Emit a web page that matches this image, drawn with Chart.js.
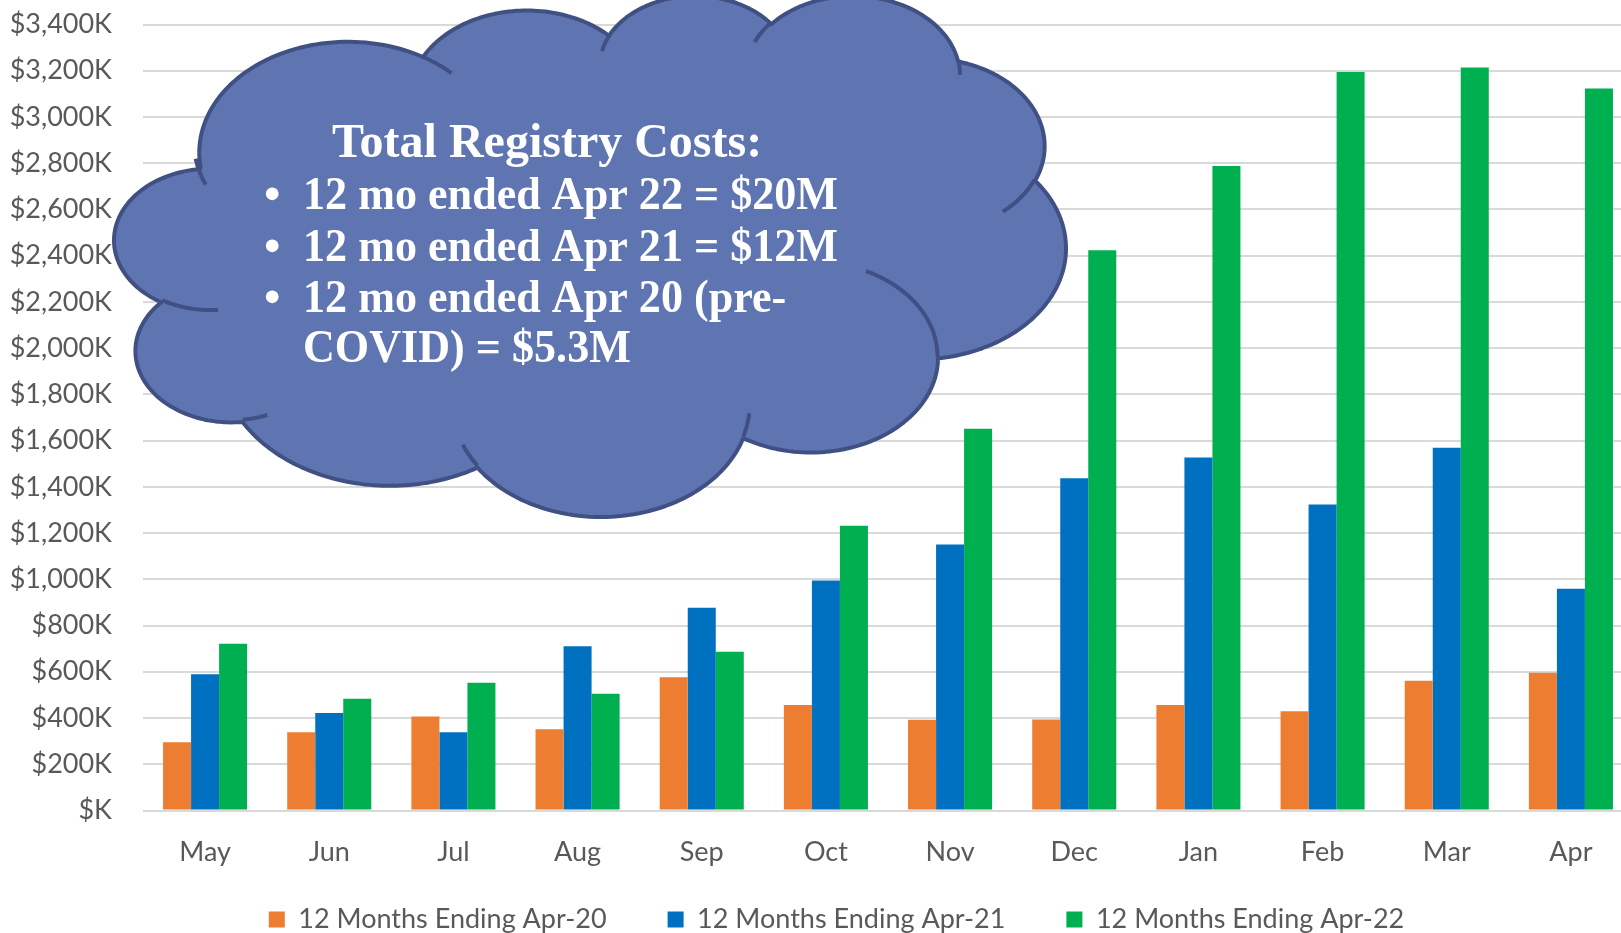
<!DOCTYPE html>
<html>
<head>
<meta charset="utf-8">
<script src="https://cdn.jsdelivr.net/npm/chart.js@4.4.1/dist/chart.umd.min.js"></script>
<style>
  html, body { margin:0; padding:0; overflow:hidden; background:#ffffff; width:1621px; height:933px; }
  canvas { display:block; }
</style>
</head>
<body>
<canvas id="chart" width="1633" height="943" style="width:1633px;height:943px"></canvas>
<script>
// ---- data (values in $K) ----
const months = ['May','Jun','Jul','Aug','Sep','Oct','Nov','Dec','Jan','Feb','Mar','Apr'];
const seriesNames = ['12 Months Ending Apr-20','12 Months Ending Apr-21','12 Months Ending Apr-22'];
const endingApr20 = [295, 338, 407, 351, 576, 456, 393, 394, 456, 429, 561, 596];
const endingApr21 = [589, 422, 338, 710, 877, 995, 1151, 1437, 1527, 1324, 1569, 959];
const endingApr22 = [721, 483, 553, 505, 687, 1232, 1651, 2424, 2788, 3194, 3214, 3123];
const yTickValues = [0,200,400,600,800,1000,1200,1400,1600,1800,2000,2200,2400,2600,2800,3000,3200,3400];
const cloudTitle = 'Total Registry Costs:';
const cloudLines = ['12 mo ended Apr 22 = $20M','12 mo ended Apr 21 = $12M','12 mo ended Apr 20 (pre-','COVID) = $5.3M'];
const cloudBullets = [true, true, true, false];

const colors = ['#ED7D31', '#0070C0', '#00B050'];
const tickColor = '#595959';
const tickFont = { family: 'Lato', size: 27 };

function fmtK(v) {
  return v === 0 ? '$K' : '$' + v.toLocaleString('en-US') + 'K';
}

// ---- Office "cloud" preset geometry (43200 x 43200 space) ----
const CLOUD_START = [3900, 14370];
const CLOUD_ARCS = [
  [6753,9190,-11429249,7426832],[5333,7267,-8646143,5396714],[4365,5945,-8748475,5983381],
  [4857,6595,-7859164,7034504],[5333,7273,-4722533,6541615],[6775,9220,-2776035,7816140],
  [5785,7867,37501,6842000],[6752,9215,1347096,6910353],[7720,10543,3974558,4542661],
  [4360,5918,-16496525,8804134],[4345,5945,-14809710,9151131]
];
const CLOUD_INNER = [
  [4693,26177,4345,5945,5204520,1585770],[6928,34899,4360,5918,4416628,686848],
  [16478,39090,6752,9215,8257449,844866],[28827,34751,6752,9215,387196,959901],
  [34129,22954,5785,7867,-4217541,4255042],[41798,15354,5333,7273,1819082,1665090],
  [38324,5426,4857,6595,-824660,891534],[29078,3952,4857,6595,-8950887,1091722],
  [22141,4720,4365,5945,-9809656,1061181],[14000,5192,6753,9190,-4002417,739161],
  [4127,15789,6753,9190,9004570,1068045]
];
function arcPoints(px, py, wR, hR, st, sw, n) {
  const a1 = st / 60000 * Math.PI / 180, a2 = (st + sw) / 60000 * Math.PI / 180;
  const t1 = Math.atan2(wR * Math.sin(a1), hR * Math.cos(a1));
  let t2 = Math.atan2(wR * Math.sin(a2), hR * Math.cos(a2));
  if (sw > 0) { while (t2 < t1) t2 += 2 * Math.PI; } else { while (t2 > t1) t2 -= 2 * Math.PI; }
  const cx = px - wR * Math.cos(t1), cy = py - hR * Math.sin(t1);
  const pts = [];
  for (let i = 1; i <= n; i++) {
    const t = t1 + (t2 - t1) * i / n;
    pts.push([cx + wR * Math.cos(t), cy + hR * Math.sin(t)]);
  }
  return pts;
}
function cloudGeometry() {
  let cur = CLOUD_START.slice();
  const main = [cur.slice()];
  CLOUD_ARCS.forEach(a => {
    const p = arcPoints(cur[0], cur[1], a[0], a[1], a[2], a[3], 60);
    p.forEach(q => main.push(q));
    cur = p[p.length - 1];
  });
  const inner = CLOUD_INNER.map(a => [[a[0], a[1]]].concat(arcPoints(a[0], a[1], a[2], a[3], a[4], a[5], 30)));
  return { main, inner };
}

const cloudPlugin = {
  id: 'cloud',
  afterDraw(chart) {
    const ctx = chart.ctx;
    const box = { left: 114, right: 1066, top: -4, bottom: 517 };
    const g = cloudGeometry();
    let x0 = Infinity, x1 = -Infinity, y0 = Infinity, y1 = -Infinity;
    g.main.forEach(p => { x0 = Math.min(x0, p[0]); x1 = Math.max(x1, p[0]); y0 = Math.min(y0, p[1]); y1 = Math.max(y1, p[1]); });
    const mx = x => box.left + (x - x0) / (x1 - x0) * (box.right - box.left);
    const my = y => box.top + (y - y0) / (y1 - y0) * (box.bottom - box.top);
    ctx.save();
    ctx.beginPath();
    g.main.forEach((p, i) => i === 0 ? ctx.moveTo(mx(p[0]), my(p[1])) : ctx.lineTo(mx(p[0]), my(p[1])));
    ctx.closePath();
    ctx.fillStyle = '#5F75B2';
    ctx.fill();
    ctx.lineWidth = 4;
    ctx.lineJoin = 'round';
    ctx.strokeStyle = '#405083';
    ctx.stroke();
    g.inner.forEach(seg => {
      ctx.beginPath();
      seg.forEach((p, i) => i === 0 ? ctx.moveTo(mx(p[0]), my(p[1])) : ctx.lineTo(mx(p[0]), my(p[1])));
      ctx.stroke();
    });
    // text
    ctx.fillStyle = '#ffffff';
    ctx.textBaseline = 'alphabetic';
    ctx.textAlign = 'left';
    ctx.font = 'bold 48px "Liberation Serif"';
    ctx.fillText(cloudTitle, 332, 157);
    ctx.font = 'bold 47px "Liberation Serif"';
    const w1 = ctx.measureText(cloudLines[0]).width;
    const k = Math.min(1, 535 / w1);
    const baselines = [209, 261, 312, 362];
    cloudLines.forEach((t, i) => {
      const w = ctx.measureText(t).width * k;
      ctx.fillText(t, 303, baselines[i], w);
      if (cloudBullets[i]) ctx.fillText('\u2022', 264, baselines[i]);
    });
    ctx.restore();
  }
};

const noClip = () => undefined;

new Chart(document.getElementById('chart'), {
  type: 'bar',
  data: {
    labels: months,
    datasets: [
      { label: seriesNames[0], data: endingApr20, backgroundColor: colors[0] },
      { label: seriesNames[1], data: endingApr21, backgroundColor: colors[1] },
      { label: seriesNames[2], data: endingApr22, backgroundColor: colors[2] }
    ]
  },
  options: {
    responsive: false,
    animation: false,
    devicePixelRatio: 1,
    layout: { padding: { left: 40, right: 0, top: 24.5, bottom: 0 } },
    datasets: { bar: { categoryPercentage: 0.677, barPercentage: 1.0, borderWidth: 0 } },
    plugins: {
      legend: {
        position: 'bottom',
        labels: { boxWidth: 16, boxHeight: 16, padding: 61, color: tickColor, font: tickFont }
      },
      tooltip: { enabled: false }
    },
    scales: {
      x: {
        grid: { display: false, drawTicks: false },
        border: { display: false },
        ticks: { color: tickColor, font: tickFont, padding: 25.5, maxRotation: 0 },
        afterFit: s => { s.height = 34.5; s.paddingLeft = 0; s.paddingRight = 0; s._computeLabelArea = noClip; }
      },
      y: {
        min: 0, max: 3400,
        afterBuildTicks: s => { s.ticks = yTickValues.map(v => ({ value: v })); },
        grid: { color: '#D9D9D9', lineWidth: 2, drawTicks: false, tickLength: 0 },
        border: { display: false },
        ticks: { color: tickColor, font: tickFont, padding: 31, callback: v => fmtK(v) },
        afterFit: s => { s.width = 103; s.paddingTop = 0; s.paddingBottom = 0; s._computeLabelArea = noClip; }
      }
    }
  },
  plugins: [cloudPlugin]
});
</script>
</body>
</html>
